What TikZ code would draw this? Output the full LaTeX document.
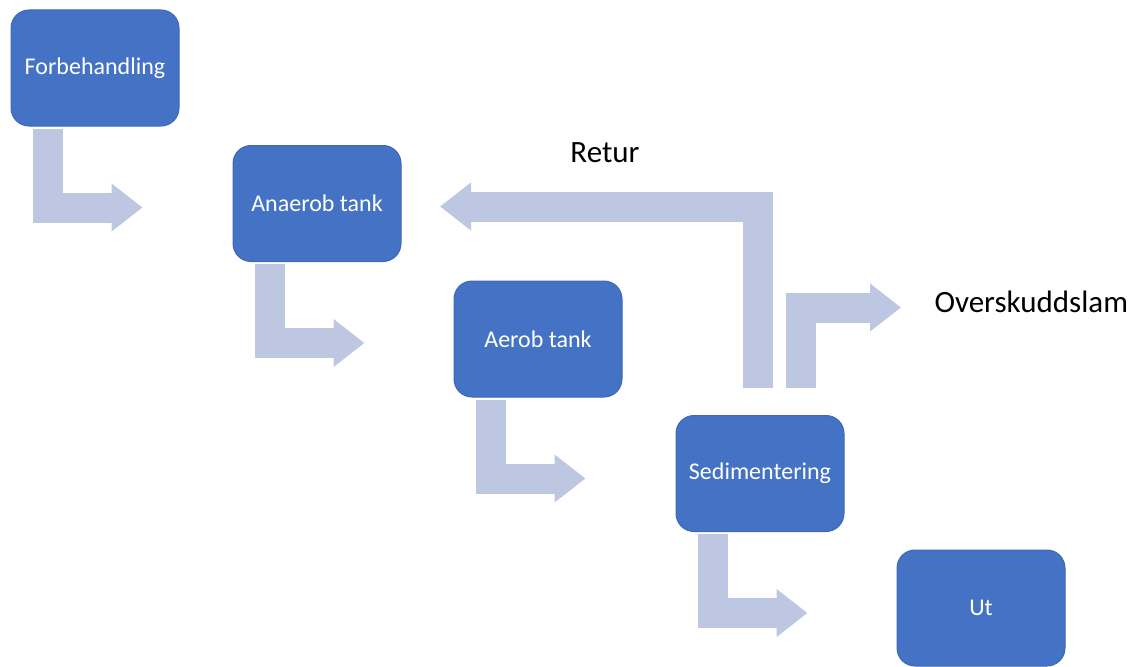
\documentclass[tikz,border=0pt]{standalone}
\usepackage{fontspec}
\setmainfont{Carlito}
\usetikzlibrary{arrows.meta}
\definecolor{tankblue}{HTML}{4472C4}
\definecolor{tankedge}{HTML}{3D69B8}
\definecolor{flowblue}{HTML}{BDC7E2}
\begin{document}
\begin{tikzpicture}[x=1pt,y=-1pt,
    tank/.style={draw=tankedge,fill=tankblue,line width=1pt,rounded corners=18pt,
      minimum width=168pt,minimum height=116pt,text=white,
      font=\fontsize{24}{28}\selectfont},
    flow/.style={draw=flowblue,line width=30pt,line join=miter,
      -{Triangle[width=46pt,length=31pt]}},
    lbl/.style={font=\fontsize{31}{36}\selectfont,text=black}]
  \useasboundingbox (0,0) rectangle (1142,666);
  % tanks
  \node[tank] (fb)  at (95,68)    {Forbehandling};
  \node[tank] (ana) at (317,203.5) {Anaerob tank};
  \node[tank] (aer) at (538,339)  {Aerob tank};
  \node[tank] (sed) at (760,473.5) {Sedimentering};
  \node[tank] (ut)  at (981,608)  {Ut};
  % main flow
  \draw[flow] ([xshift=37pt,yshift=-2pt]fb.south west) |- ([xshift=132pt,yshift=-81pt]fb.south west);
  \draw[flow] ([xshift=37pt,yshift=-2pt]ana.south west) |- ([xshift=132pt,yshift=-81pt]ana.south west);
  \draw[flow] ([xshift=37pt,yshift=-2pt]aer.south west) |- ([xshift=132pt,yshift=-81pt]aer.south west);
  \draw[flow] ([xshift=37pt,yshift=-2pt]sed.south west) |- ([xshift=132pt,yshift=-81pt]sed.south west);
  % return and excess sludge
  \coordinate (retur end) at (440,206.5);
  \coordinate (slam end) at (901,307.5);
  \draw[flow] ([xshift=-2pt,yshift=27pt]sed.north) |- (retur end);
  \draw[flow] ([xshift=40.5pt,yshift=27pt]sed.north) |- (slam end);
  \node[lbl] (retur) at (605,153) {Retur};
  \node[lbl,anchor=west] (slam) at (931,302) {Overskuddslam};
\end{tikzpicture}
\end{document}
